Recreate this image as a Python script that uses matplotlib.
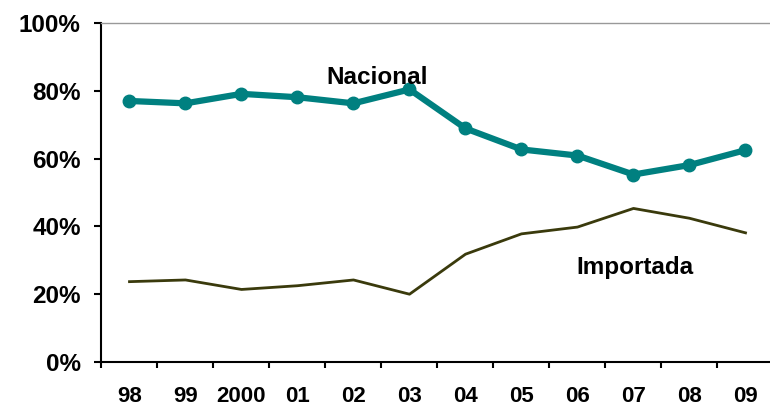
import matplotlib.pyplot as plt
from matplotlib.ticker import FuncFormatter

# Datos (%)
anios = ["98", "99", "2000", "01", "02", "03", "04", "05", "06", "07", "08", "09"]
nacional = [77.0, 76.3, 79.1, 78.1, 76.3, 80.4, 68.9, 62.7, 60.9, 55.3, 58.1, 62.5]
importada = [23.7, 24.2, 21.4, 22.5, 24.2, 20.0, 31.8, 37.8, 39.8, 45.3, 42.4, 38.1]

plt.rcParams['font.family'] = ['Liberation Sans', 'DejaVu Sans']
plt.rcParams['font.weight'] = 'bold'

fig = plt.figure(figsize=(7.7, 4.08), dpi=100)
ax = fig.add_axes([101.5 / 770, 46 / 408, 672 / 770, 339 / 408])

x = list(range(len(anios)))
ax.plot(x, nacional, color='#008080', lw=4.5, marker='o', markersize=9,
        solid_joinstyle='round', zorder=3)
ax.plot(x, importada, color='#3a3a0c', lw=2, zorder=2)

ax.text(4.43, 83.8, "Nacional", fontsize=17.5, fontweight='bold', ha='center', va='center')
ax.text(9.02, 27.8, "Importada", fontsize=17.5, fontweight='bold', ha='center', va='center')

# Ejes
ax.set_xlim(-0.5, 11.5)
ax.set_ylim(0, 100)
ax.set_yticks([0, 20, 40, 60, 80, 100])
ax.yaxis.set_major_formatter(FuncFormatter(lambda v, p: f"{v:.0f}%"))
ax.set_xticks([i - 0.5 for i in range(len(anios) + 1)])
ax.set_xticklabels([])
ax.set_xticks(x, minor=True)
ax.set_xticklabels(anios, minor=True)
ax.tick_params(axis='x', which='minor', length=0, pad=17, labelsize=16)
ax.tick_params(axis='x', which='major', length=4.5, width=1.5, direction='out')
ax.tick_params(axis='y', length=5, width=1.5, direction='out', labelsize=17.5, pad=10)

ax.spines['right'].set_visible(False)
ax.spines['top'].set_color('#999999')
ax.spines['top'].set_linewidth(1)
ax.spines['left'].set_linewidth(1.5)
ax.spines['bottom'].set_linewidth(1.5)

fig.savefig("out.png", dpi=100)
